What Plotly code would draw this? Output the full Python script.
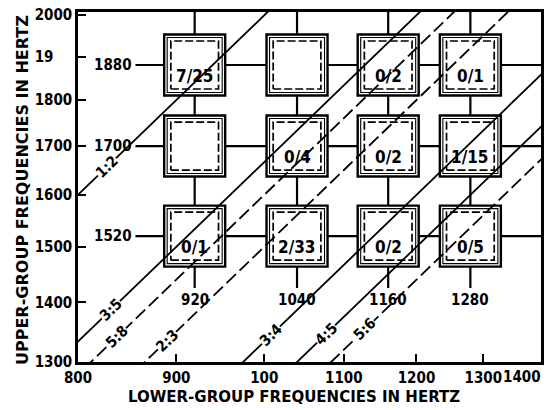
import math
import plotly.graph_objects as go

# Signalling frequencies (Hz)
lower_group = [920, 1040, 1160, 1280]
upper_group = [1880, 1700, 1520]

# Result recorded in each frequency cell, rows follow upper_group
cell_text = [
    ["7/25", "", "0/2", "0/1"],
    ["", "0/4", "0/2", "1/15"],
    ["0/1", "2/33", "0/2", "0/5"],
]

# Harmonic ratio lines  lower : upper
ratio_names = ["1:2", "3:5", "5:8", "2:3", "3:4", "4:5", "5:6"]
ratio_lower = [1, 3, 5, 2, 3, 4, 5]
ratio_upper = [2, 5, 8, 3, 4, 5, 6]

# Axis ticks
x_tickvals = [800, 900, 1000, 1100, 1200, 1300]
x_ticktext = ["800", "900", "100", "1100", "1200", "1300"]
y_tickvals = [1300, 1400, 1500, 1600, 1700, 1800, 1900, 2000]
y_ticktext = ["1300", "1400", "1500", "1600", "1700", "1800", "19\u2007\u2007", "2000"]

# ---- styling / placement ----
W, H = 546, 410
M_L, M_R, M_T, M_B = 78, 2, 12, 48
X_RANGE = (800, 1393)
Y_RANGE = (1300, 2008)
FONT = "DejaVu Sans Condensed"
INK = "black"
dashed_ratio = {"5:8", "2:3", "5:6"}
label_lower_at = {"1:2": 828, "3:5": 832, "5:8": 838, "2:3": 890,
                  "3:4": 1008, "4:5": 1077, "5:6": 1128}
row_line_start = 857      # left end of the horizontal row lines (Hz)
col_line_end = 1425       # lower end of the vertical column lines (Hz)
DASH_HALF_PX = 24         # half side of the dashed inner square, pixels

# pixels per decade on each log axis
px_x = (W - M_L - M_R) / math.log10(X_RANGE[1] / X_RANGE[0])
px_y = (H - M_T - M_B) / math.log10(Y_RANGE[1] / Y_RANGE[0])

fig = go.Figure()

# connecting row / column lines
lx, ly = [], []
for f in upper_group:
    lx += [row_line_start, X_RANGE[1], None]
    ly += [f, f, None]
for f in lower_group:
    lx += [f, f, None]
    ly += [col_line_end, Y_RANGE[1], None]
fig.add_trace(go.Scatter(x=lx, y=ly, mode="lines",
                         line=dict(color=INK, width=2.2), hoverinfo="skip"))

# cell frames (white filled so the row/column lines stop at the frame)
bx = [lo for hi in upper_group for lo in lower_group]
by = [hi for hi in upper_group for lo in lower_group]
fig.add_trace(go.Scatter(x=bx, y=by, mode="markers",
                         marker=dict(symbol="square", size=61, color="white",
                                     line=dict(color=INK, width=2.4)),
                         hoverinfo="skip"))
fig.add_trace(go.Scatter(x=bx, y=by, mode="markers",
                         marker=dict(symbol="square-open", size=55, color=INK,
                                     line=dict(color=INK, width=1.1)),
                         hoverinfo="skip"))

# ratio lines
for name, a, b in zip(ratio_names, ratio_lower, ratio_upper):
    r = b / a
    xs = [600, 1600]
    ys = [r * v for v in xs]
    fig.add_trace(go.Scatter(
        x=xs, y=ys, mode="lines", hoverinfo="skip",
        line=dict(color=INK, width=1.8,
                  dash="13px,5px" if name in dashed_ratio else "solid")))

# dashed inner squares, built around each cell centre
kx = 10 ** (DASH_HALF_PX / px_x)
ky = 10 ** (DASH_HALF_PX / px_y)
dx, dy = [], []
for lo, hi in zip(bx, by):
    dx += [lo / kx, lo * kx, lo * kx, lo / kx, lo / kx, None]
    dy += [hi / ky, hi / ky, hi * ky, hi * ky, hi / ky, None]
fig.add_trace(go.Scatter(x=dx, y=dy, mode="lines", hoverinfo="skip",
                         line=dict(color=INK, width=1.7, dash="8px,3px")))

ann = []
# cell texts
for i, hi in enumerate(upper_group):
    for j, lo in enumerate(lower_group):
        if cell_text[i][j]:
            ann.append(dict(x=math.log10(lo), y=math.log10(hi), xref="x", yref="y",
                            text=cell_text[i][j], showarrow=False, yshift=-11,
                            font=dict(family=FONT, size=17, color=INK, weight="bold")))
# row labels
for f in upper_group:
    ann.append(dict(x=math.log10(row_line_start), y=math.log10(f), xref="x", yref="y",
                    text=str(f), showarrow=False, xanchor="right", xshift=-1,
                    font=dict(family=FONT, size=15, color=INK, weight="bold")))
# column labels
for f in lower_group:
    ann.append(dict(x=math.log10(f), y=math.log10(col_line_end), xref="x", yref="y",
                    text=str(f), showarrow=False, yanchor="top", yshift=-1,
                    font=dict(family=FONT, size=15, color=INK, weight="bold")))
# ratio labels
for name, a, b in zip(ratio_names, ratio_lower, ratio_upper):
    lo = label_lower_at[name]
    hi = lo * b / a
    ann.append(dict(x=math.log10(lo), y=math.log10(hi), xref="x", yref="y",
                    text=name, showarrow=False, textangle=-44,
                    bgcolor="white", borderpad=0,
                    font=dict(family=FONT, size=15, color=INK, weight="bold")))
# 1400 label at the right edge
ann.append(dict(x=1, y=0, xref="paper", yref="paper", text="1400",
                showarrow=False, xanchor="right", yanchor="top", yshift=-4, xshift=2,
                font=dict(family=FONT, size=15, color=INK, weight="bold")))
# axis titles
ann.append(dict(x=0.5, y=0, xref="paper", yref="paper",
                text="LOWER-GROUP FREQUENCIES IN HERTZ", showarrow=False,
                xshift=-16, yshift=-35, yanchor="middle",
                font=dict(family="DejaVu Sans", size=15, color=INK, weight="bold")))
ann.append(dict(x=0, y=0.5, xref="paper", yref="paper",
                text="UPPER-GROUP FREQUENCIES IN HERTZ", showarrow=False,
                textangle=-90, xshift=-56, yshift=-3, xanchor="center",
                font=dict(family="DejaVu Sans", size=16, color=INK, weight="bold")))

axis_common = dict(type="log", showgrid=False, zeroline=False, showline=True,
                   mirror=True, linecolor=INK, linewidth=2.6,
                   ticks="inside", ticklen=8, tickwidth=2, tickcolor=INK,
                   tickfont=dict(family=FONT, size=15, color=INK, weight="bold"))

fig.update_layout(
    width=W, height=H,
    margin=dict(l=M_L, r=M_R, t=M_T, b=M_B),
    paper_bgcolor="white", plot_bgcolor="white",
    showlegend=False,
    xaxis=dict(range=[math.log10(X_RANGE[0]), math.log10(X_RANGE[1])],
               tickvals=x_tickvals, ticktext=x_ticktext, **axis_common),
    yaxis=dict(range=[math.log10(Y_RANGE[0]), math.log10(Y_RANGE[1])],
               tickvals=y_tickvals, ticktext=y_ticktext, **axis_common),
    annotations=ann,
)

fig.write_html("out.html")
